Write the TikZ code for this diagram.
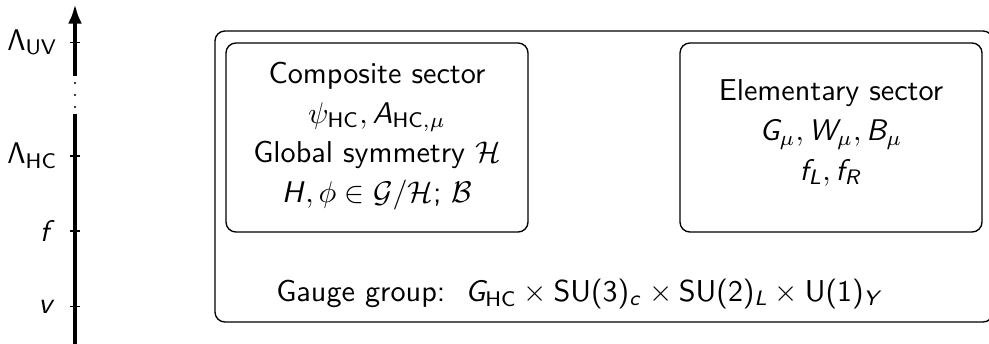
\documentclass[tikz,border=0pt]{standalone}
\usepackage{amsmath}
\usetikzlibrary{arrows.meta}
\renewcommand{\familydefault}{\sfdefault}
\SetSymbolFont{operators}{normal}{OT1}{cmss}{m}{n}
\DeclareSymbolFont{sfletters}{OT1}{cmss}{m}{sl}
\makeatletter
\count@=`A
\loop
  \mathcode\count@=\numexpr"7000+\symsfletters*"100+\count@\relax
  \advance\count@ by 1
\ifnum\count@<91 \repeat
\count@=`a
\loop
  \mathcode\count@=\numexpr"7000+\symsfletters*"100+\count@\relax
  \advance\count@ by 1
\ifnum\count@<123 \repeat
\makeatother
\newcommand{\fs}{\fontsize{10.1}{12.4}\selectfont}
\newcommand{\fsb}{\fontsize{10.1}{13.3}\selectfont}
\begin{document}
\begin{tikzpicture}[x=0.33333bp,y=-0.33333bp,
  axisline/.style={line width=1.35pt},
  tickline/.style={line width=0.5pt},
  panel/.style={draw, rounded corners=3.3bp, line width=0.45pt, inner sep=0pt},
  lbl/.style={anchor=east, inner sep=0pt, font=\fs},
  txt/.style={align=center, font=\fsb, inner sep=0pt},
  dotmark/.style={circle, fill, inner sep=0pt, minimum size=0.75bp}]
\useasboundingbox (0,0) rectangle (989,344);
% axis
\coordinate (axbot) at (75,344);
\coordinate (gaplow) at (75,114);
\coordinate (gaphigh) at (75,76);
\coordinate (axtop) at (75,4);
\draw[axisline] (axbot) -- (gaplow);
\draw[axisline, -{Latex[length=6.5bp,width=4.6bp]}] (gaphigh) -- (axtop);
\node[dotmark] (d1) at (75,83) {};
\node[dotmark] (d2) at (75,95) {};
\node[dotmark] (d3) at (75,107) {};
% ticks
\foreach \nm/\yy in {tUV/42.5, tHC/156, tf/231, tv/306.5}{
  \coordinate (\nm) at (75,\yy);
  \draw[tickline] ([xshift=-5*0.33333bp]\nm) -- ([xshift=5*0.33333bp]\nm);
}
\node[lbl] (lUV) at ([xshift=-17*0.33333bp]tUV) {$\Lambda_{\text{UV}}$};
\node[lbl] (lHC) at ([xshift=-17*0.33333bp]tHC) {$\Lambda_{\text{HC}}$};
\node[lbl] (lf) at ([xshift=-19*0.33333bp]tf) {$f$};
\node[lbl] (lv) at ([xshift=-19*0.33333bp]tv) {$v$};
% boxes
\node[panel, minimum width=778*0.33333bp, minimum height=291*0.33333bp] (outer) at (604,176.5) {};
\node[panel, minimum width=302*0.33333bp, minimum height=189*0.33333bp] (comp) at (377,137.5) {};
\node[panel, minimum width=302*0.33333bp, minimum height=189*0.33333bp] (elem) at (831,137.5) {};
\node[txt] (comptxt) at (377,136) {Composite sector\\
  $\psi_{\text{HC}}, A_{\text{HC},\mu}$\\
  Global symmetry $\mathcal{H}$\\
  $H, \phi \in \mathcal{G}/\mathcal{H}$; $\mathcal{B}$};
\node[txt] (elemtxt) at (831,133) {Elementary sector\\
  $G_\mu, W_\mu, B_\mu$\\
  $f_L, f_R$};
\node[txt] (gauge) at (580,294) {Gauge group:\ \ $G_{\text{HC}} \times \text{SU}(3)_c \times \text{SU}(2)_L \times \text{U}(1)_Y$};
\end{tikzpicture}
\end{document}
